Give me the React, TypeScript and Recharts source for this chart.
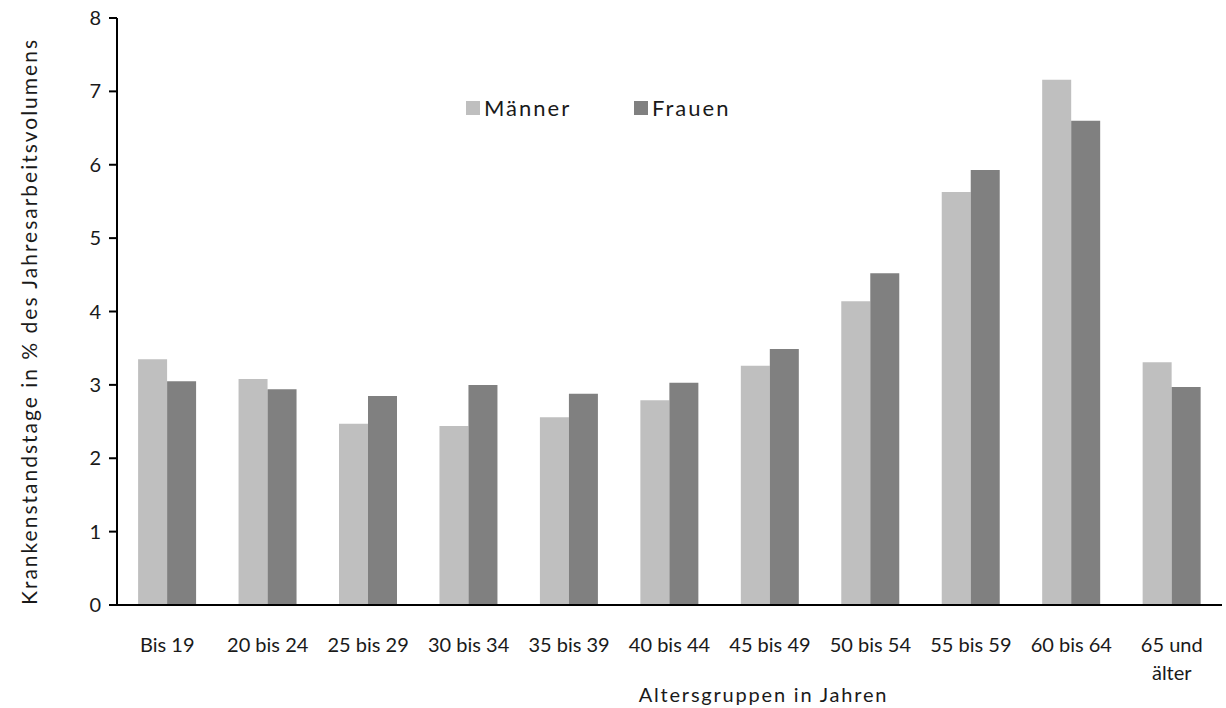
import React from "react";
import { BarChart, Bar, XAxis, YAxis, Legend, Label } from "recharts";

// Altersgruppen (Kategorien)
const categories = [
  "Bis 19",
  "20 bis 24",
  "25 bis 29",
  "30 bis 34",
  "35 bis 39",
  "40 bis 44",
  "45 bis 49",
  "50 bis 54",
  "55 bis 59",
  "60 bis 64",
  "65 und\nälter",
];

// Krankenstandstage in % des Jahresarbeitsvolumens
const maenner = [3.35, 3.08, 2.47, 2.44, 2.56, 2.79, 3.26, 4.14, 5.63, 7.16, 3.31];
const frauen = [3.05, 2.94, 2.85, 3.0, 2.88, 3.03, 3.49, 4.52, 5.93, 6.6, 2.97];

const yTicks = [0, 1, 2, 3, 4, 5, 6, 7, 8];

const series = [
  { key: "maenner", name: "Männer", color: "#BFBFBF" },
  { key: "frauen", name: "Frauen", color: "#808080" },
];

const data = categories.map((c, i) => ({
  name: c,
  maenner: maenner[i],
  frauen: frauen[i],
}));

const FONT = "Lato, 'Open Sans', sans-serif";
const TEXT = "#1a1a1a";

const XTick = (props: any) => {
  const { x, y, payload } = props;
  const lines = String(payload.value).split("\n");
  return (
    <g transform={`translate(${x},${y})`}>
      {lines.map((l, i) => (
        <text
          key={i}
          x={0}
          y={47 + i * 28}
          textAnchor="middle"
          fill={TEXT}
          fontSize={20}
          fontFamily={FONT}
        >
          {l}
        </text>
      ))}
    </g>
  );
};

const LegendContent = () => (
  <div
    style={{
      display: "flex",
      fontFamily: FONT,
      fontSize: 22,
      letterSpacing: 2,
      color: TEXT,
    }}
  >
    {series.map((s) => (
      <div
        key={s.key}
        style={{ display: "flex", alignItems: "center", width: 168 }}
      >
        <span
          style={{
            display: "inline-block",
            width: 14,
            height: 14,
            background: s.color,
            marginRight: 4,
          }}
        />
        <span>{s.name}</span>
      </div>
    ))}
  </div>
);

export default function App() {
  return (
    <div style={{ position: "absolute", top: 0, left: 0, background: "#fff" }}>
      <BarChart
        width={1226}
        height={708}
        data={data}
        margin={{ top: 18, right: 4, left: 0, bottom: 0 }}
        barCategoryGap="21%"
        barGap={0}
      >
        <XAxis
          dataKey="name"
          height={103}
          tickLine={false}
          tickSize={0}
          tickMargin={0}
          axisLine={{ stroke: "#000", strokeWidth: 2 }}
          tick={<XTick />}
          interval={0}
        >
          <Label
            value="Altersgruppen in Jahren"
            position="insideBottom"
            offset={6}
            dx={94}
            fill={TEXT}
            fontSize={20}
            fontFamily={FONT}
            letterSpacing={1.8}
          />
        </XAxis>
        <YAxis
          width={117}
          domain={[0, 8]}
          ticks={yTicks}
          interval={0}
          tickSize={8}
          tickMargin={8}
          axisLine={{ stroke: "#000", strokeWidth: 2 }}
          tickLine={{ stroke: "#000", strokeWidth: 2 }}
          tick={{ fill: TEXT, fontSize: 20, fontFamily: FONT }}
        >
          <Label
            value="Krankenstandstage in % des Jahresarbeitsvolumens"
            angle={-90}
            position="insideLeft"
            offset={30}
            dy={10}
            style={{ textAnchor: "middle" }}
            fill={TEXT}
            fontSize={21}
            fontFamily={FONT}
            letterSpacing={2}
          />
        </YAxis>
        <Legend
          layout="horizontal"
          verticalAlign="middle"
          content={<LegendContent />}
          wrapperStyle={{ top: 94, left: 466, width: 360 }}
        />
        {series.map((s) => (
          <Bar
            key={s.key}
            dataKey={s.key}
            name={s.name}
            fill={s.color}
            isAnimationActive={false}
          />
        ))}
      </BarChart>
    </div>
  );
}
